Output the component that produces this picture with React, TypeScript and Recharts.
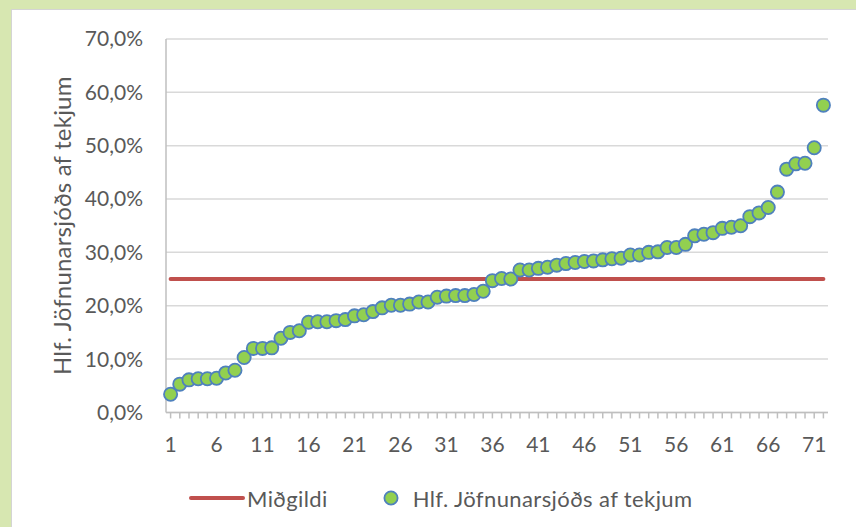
import React from 'react';
import { ComposedChart, Line, XAxis, YAxis, CartesianGrid, Legend } from 'recharts';

// Category labels (municipality rank)
const categories: number[] = [
  1, 2, 3, 4, 5, 6, 7, 8, 9, 10, 11, 12, 13, 14, 15, 16, 17, 18, 19, 20,
  21, 22, 23, 24, 25, 26, 27, 28, 29, 30, 31, 32, 33, 34, 35, 36, 37, 38, 39, 40,
  41, 42, 43, 44, 45, 46, 47, 48, 49, 50, 51, 52, 53, 54, 55, 56, 57, 58, 59, 60,
  61, 62, 63, 64, 65, 66, 67, 68, 69, 70, 71, 72,
];

// Hlf. Jöfnunarsjóðs af tekjum (%)
const shareValues: number[] = [
  3.4, 5.3, 6.1, 6.3, 6.3, 6.4, 7.4, 7.9, 10.3, 12.0,
  12.0, 12.1, 13.9, 15.0, 15.3, 16.9, 17.0, 17.0, 17.2, 17.4,
  18.1, 18.3, 18.9, 19.6, 20.1, 20.1, 20.3, 20.7, 20.7, 21.6,
  21.8, 21.9, 21.9, 22.1, 22.7, 24.7, 25.1, 25.0, 26.7, 26.7,
  27.0, 27.2, 27.6, 27.9, 28.1, 28.3, 28.4, 28.6, 28.8, 28.9,
  29.5, 29.5, 30.0, 30.1, 30.9, 30.9, 31.5, 33.1, 33.4, 33.7,
  34.5, 34.7, 35.0, 36.7, 37.4, 38.4, 41.3, 45.6, 46.6, 46.7,
  49.6, 57.6,
];

// Miðgildi (median, %)
const medianValue = 25.0;

const yTicks: number[] = [0, 10, 20, 30, 40, 50, 60, 70];
const xTickLabels: number[] = [1, 6, 11, 16, 21, 26, 31, 36, 41, 46, 51, 56, 61, 66, 71];

const SERIES_NAME = 'Hlf. Jöfnunarsjóðs af tekjum';
const MEDIAN_NAME = 'Miðgildi';

const data = categories.map((c, i) => ({
  idx: c,
  value: shareValues[i],
  median: medianValue,
}));

const FONT = 'Lato, "Open Sans", sans-serif';
const TEXT = '#595959';
const FS = 21;

const fmtPct = (v: number) => `${v.toFixed(1).replace('.', ',')}%`;

const XTick = (props: any) => {
  const { x, y, payload } = props;
  const show = xTickLabels.includes(Number(payload.value));
  return (
    <g>
      <line x1={x} x2={x} y1={y} y2={y + 6} stroke="#bfbfbf" strokeWidth={1.5} />
      {show && (
        <text x={x} y={y + 40} textAnchor="middle" fill={TEXT} fontSize={FS} fontFamily={FONT}>
          {payload.value}
        </text>
      )}
    </g>
  );
};

const YTitle = (props: any) => {
  const vb = props.viewBox || {};
  const cx = 62;
  const cy = vb.y + vb.height / 2;
  return (
    <text
      x={cx}
      y={cy}
      transform={`rotate(-90 ${cx} ${cy})`}
      textAnchor="middle"
      dominantBaseline="central"
      fill={TEXT}
      fontSize={24}
      fontFamily={FONT}
      letterSpacing={0.2}
    >
      {SERIES_NAME}
    </text>
  );
};

const GreenDot = (props: any) => {
  const { cx, cy } = props;
  if (cx == null || cy == null) return null;
  return <circle cx={cx} cy={cy} r={6.6} fill="#92d050" stroke="#4f81bd" strokeWidth={1.8} />;
};

const LegendContent = () => (
  <div
    style={{
      height: 30,
      display: 'flex',
      alignItems: 'center',
      paddingLeft: 189,
      fontFamily: FONT,
      fontSize: 22,
      letterSpacing: 0.4,
      color: TEXT,
      whiteSpace: 'nowrap',
    }}
  >
    <svg width={56} height={10} style={{ marginRight: 2 }}>
      <line x1={2} x2={54} y1={5} y2={5} stroke="#c0504d" strokeWidth={4} strokeLinecap="round" />
    </svg>
    <span>{MEDIAN_NAME}</span>
    <svg width={18} height={18} style={{ marginLeft: 54, marginRight: 13 }}>
      <circle cx={9} cy={9} r={6.6} fill="#92d050" stroke="#4f81bd" strokeWidth={1.8} />
    </svg>
    <span>{SERIES_NAME}</span>
  </div>
);

export default function App() {
  return (
    <div
      style={{
        position: 'absolute',
        left: 0,
        top: 0,
        width: 856,
        height: 527,
        overflow: 'hidden',
        background: '#d7e7b1',
      }}
    >
      <div
        style={{
          position: 'absolute',
          left: 11,
          top: 9,
          width: 860,
          height: 530,
          background: '#ffffff',
          border: '1px solid #d4d4d4',
        }}
      />
      <div style={{ position: 'absolute', left: 0, top: 0 }}>
        <ComposedChart
          width={856}
          height={527}
          data={data}
          margin={{ top: 39, right: 28, bottom: 54.6, left: 0 }}
        >
          <CartesianGrid vertical={false} stroke="#d9d9d9" strokeWidth={1.5} />
          <XAxis
            dataKey="idx"
            type="category"
            scale="band"
            interval={0}
            height={30}
            tickLine={false}
            tickSize={0}
            tickMargin={0}
            axisLine={{ stroke: '#bfbfbf', strokeWidth: 1.5 }}
            tick={<XTick />}
          />
          <YAxis
            width={166}
            domain={[0, 70]}
            ticks={yTicks}
            tickFormatter={fmtPct}
            tickLine={false}
            tickSize={0}
            tickMargin={23}
            axisLine={{ stroke: '#bfbfbf', strokeWidth: 1.5 }}
            tick={{ fill: TEXT, fontSize: FS, fontFamily: FONT }}
            label={<YTitle />}
          />
          <Legend
            verticalAlign="bottom"
            content={<LegendContent />}
            wrapperStyle={{ top: 483, left: 0, width: 856 }}
          />
          <Line
            dataKey="median"
            name={MEDIAN_NAME}
            stroke="#c0504d"
            strokeWidth={4}
            strokeLinecap="round"
            dot={false}
            activeDot={false}
            isAnimationActive={false}
          />
          <Line
            dataKey="value"
            name={SERIES_NAME}
            stroke="none"
            strokeWidth={0}
            dot={<GreenDot />}
            activeDot={false}
            isAnimationActive={false}
          />
        </ComposedChart>
      </div>
    </div>
  );
}
